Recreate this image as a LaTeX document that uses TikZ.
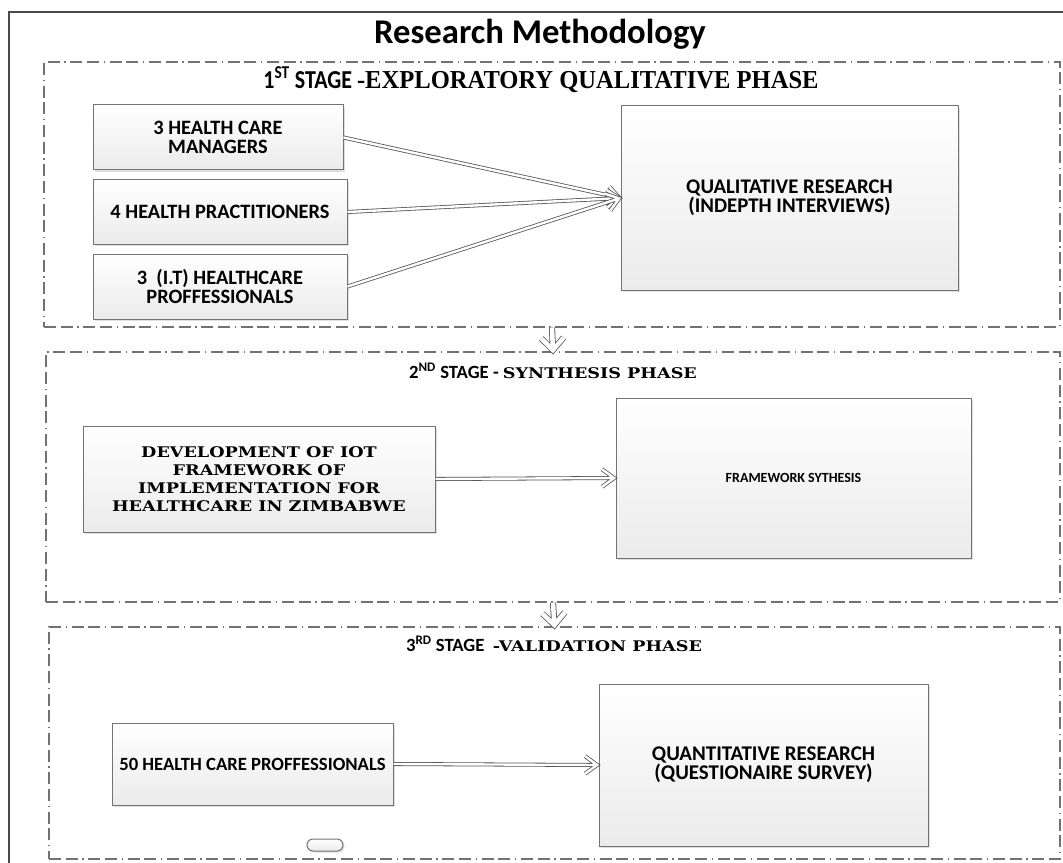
\documentclass[tikz,border=0pt]{standalone}
\usepackage{fontspec}
\setmainfont{Carlito}
\newfontfamily\widserif[FakeStretch=1.2]{DejaVu Serif}
\newfontfamily\narserif[FakeStretch=0.95]{Liberation Serif}
\newfontfamily\narsans[FakeStretch=0.85]{Carlito}
\usetikzlibrary{arrows.meta,fit,shadows,calc}

\definecolor{boxline}{HTML}{737373}
\definecolor{boxbottom}{HTML}{EBEBEB}
\definecolor{framegray}{HTML}{727272}
\definecolor{outergray}{HTML}{4A4A4A}
\definecolor{arrowgray}{HTML}{555555}

% bold box lettering at a given size
\newcommand\boxfont[1]{\fontsize{#1}{14.5}\selectfont\bfseries}

\tikzset{
  box/.style n args={2}{draw=boxline, line width=0.75pt, top color=white, bottom color=boxbottom,
    inner sep=0pt, align=center, font=\boxfont{15.3},
    minimum width=#1*0.75pt, minimum height=#2*0.75pt,
    drop shadow={shadow xshift=1.2pt, shadow yshift=-1.2pt, fill=black, opacity=0.12}},
  stageframe/.style={draw=framegray, line width=1pt, inner sep=0pt,
    dash pattern=on 9pt off 3.5pt on 9pt off 3.5pt on 1pt off 3.5pt},
  stagelabel/.style={inner sep=0pt, anchor=center, font=\fontsize{14}{14}\selectfont\bfseries},
  % hollow double-line connector with an open chevron head
  hollowflow/.style n args={3}{draw=arrowgray, line width=0.6pt, double=white,
    double distance=#1, line join=miter, miter limit=20,
    to path={-- ($(\tikztotarget)!3pt!(\tikztostart)$)
      ($(\tikztotarget)!#2!#3:(\tikztostart)$) -- ($(\tikztotarget)!1pt!(\tikztostart)$)
      -- ($(\tikztotarget)!#2!-#3:(\tikztostart)$)}},
  flow/.style={hollowflow={1.8pt}{12pt}{33}},
  downflow/.style={hollowflow={3.4pt}{13pt}{40}},
}

\begin{document}
\begin{tikzpicture}[x=0.75pt, y=-0.75pt]
\clip (0,0) rectangle (1063,863);
\fill[white] (0,0) rectangle (1063,863);

% outer frame
\draw[outergray, line width=1.1pt] (9,12) rectangle (1080,880);
\node[font=\fontsize{26}{26}\selectfont\bfseries] (title) at (540,34) {Research Methodology};

% stage frames
\node[stageframe, fit={(44,62) (1060,327)}] (s1) {};
\node[stageframe, fit={(46,352) (1060,602)}] (s2) {};
\node[stageframe, fit={(49,627) (1060,859)}] (s3) {};

\node[stagelabel, font=\fontsize{19.4}{19.4}\selectfont\bfseries] (l1) at (541,80)
  {{\narsans 1\textsuperscript{ST} STAGE }{\narserif -EXPLORATORY QUALITATIVE PHASE}};
\node[stagelabel] (l2) at (553,371)
  {2\textsuperscript{ND} STAGE - {\widserif\fontsize{11}{11}\selectfont SYNTHESIS PHASE}};
\node[stagelabel] (l3) at (554,644)
  {3\textsuperscript{RD} STAGE\ \ {\widserif\fontsize{11}{11}\selectfont -VALIDATION PHASE}};

% stage 1
\node[box={250}{65}] (a) at (218,137.5) {3 HEALTH CARE\\MANAGERS};
\node[box={254}{64}] (b) at (220,212) {4 HEALTH PRACTITIONERS};
\node[box={254}{65}] (c) at (220,286.5) {3\hspace{0.45em}(I.T) HEALTHCARE\\PROFFESSIONALS};
\node[box={337}{184}, font=\boxfont{15.6}] (d) at (789.5,198) {QUALITATIVE RESEARCH\\(INDEPTH INTERVIEWS)};
\draw[flow] (a.east) to (d.west);
\draw[flow] (b.east) to (d.west);
\draw[flow] (c.east) to (d.west);

% stage 2
\node[box={352}{106}, font=\fontsize{11}{13.5}\selectfont\bfseries\widserif] (e) at (259,479)
  {DEVELOPMENT OF IOT\\FRAMEWORK OF\\IMPLEMENTATION FOR\\HEALTHCARE IN ZIMBABWE};
\node[box={355}{160}, font=\boxfont{10.5}] (f) at (793.5,478) {FRAMEWORK SYTHESIS};
\draw[flow] (e.east) to (f.west);

% stage 3
\node[box={281}{82}, font=\boxfont{14}] (g) at (252.5,764) {50 HEALTH CARE PROFFESSIONALS};
\node[box={329}{162}, font=\boxfont{15.7}] (h) at (763.5,765) {QUANTITATIVE RESEARCH\\(QUESTIONAIRE SURVEY)};
\draw[flow] (g.east) to (h.west);
\node[box={36}{12}, rounded corners=4.5pt] (pill) at (325,845) {};

% transitions between stages
\draw[downflow] (s1.south) to (s2.north);
\draw[downflow] (s2.south) to (s3.north);
\end{tikzpicture}
\end{document}
